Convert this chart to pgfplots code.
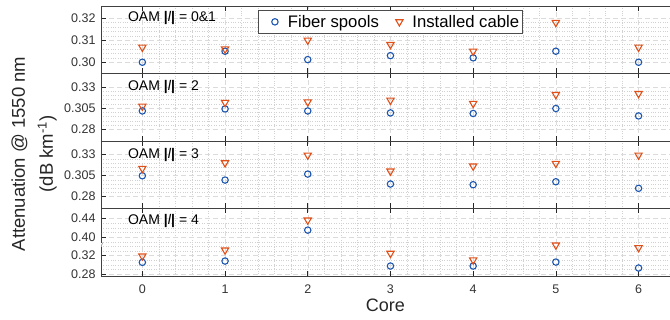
\documentclass[border=0pt]{standalone}
\usepackage{fontspec}
\setmainfont{Liberation Sans}
\usepackage{pgfplots}
\pgfplotsset{compat=1.18}
\definecolor{fblue}{RGB}{28,86,176}
\definecolor{corg}{RGB}{224,80,24}
\tikzset{lab/.style={anchor=west, inner sep=0pt, xshift=12pt, font=\fontsize{14}{15}\selectfont}}
\pgfplotsset{
  panel/.style={
    scale only axis, width=569pt, height=67.5pt,
    xmin=-0.5, xmax=6.38,
    axis x line=box, axis y line=left,
    axis line style={-, draw=black!75, line width=0.7pt},
    xtick={0,...,6}, minor x tick num=4,
    tick align=inside, major tick length=5pt, minor tick length=0pt,
    tick style={black!85, line width=0.7pt},
    grid=both,
    major grid style={dash pattern=on 5pt off 3pt, black!14, line width=0.5pt},
    minor grid style={dotted, black!18, line width=0.4pt},
    ticklabel style={font=\fontsize{12.5}{13}\selectfont, text=black!80},
    yticklabel style={xshift=-2pt},
    xticklabel style={yshift=-5pt},
    /pgf/number format/assume math mode=true,
    xticklabels={},
  },
  wideleg/.style={legend image code/.code={\path[draw=none,fill=none] (0pt,0pt) (27pt,0pt); \draw[##1] plot coordinates {(15pt,0pt)};}},
  fib/.style={only marks, mark=o, mark size=3.2pt, line width=1.1pt, color=fblue, wideleg},
  cab/.style={only marks, mark=triangle, mark size=4.2pt, line width=1.1pt, color=corg, mark options={rotate=180}, wideleg},
}
\begin{document}
\begin{tikzpicture}
\useasboundingbox (0pt,0pt) rectangle (670pt,320pt);
% Panel 1
\begin{axis}[panel, at={(101pt,314pt)}, anchor=north west,
  ymin=0.2949, ymax=0.3255, ytick={0.30,0.31,0.32}, yticklabels={0.30,0.31,0.32}, minor y tick num=4,
  legend columns=2,
  legend style={at={(axis description cs:0.508,0.937)}, anchor=north, draw=black!70, line width=0.6pt,
    font=\fontsize{16.7}{18}\selectfont, inner xsep=2pt, inner ysep=2.5pt,
    nodes={inner xsep=1pt},
    /tikz/every even column/.append style={column sep=4.5pt}},
]
\addplot[fib] coordinates {(0,0.300) (1,0.3050) (2,0.3012) (3,0.3030) (4,0.3020) (5,0.3050) (6,0.3000)};
\addlegendentry{Fiber spools}
\addplot[cab] coordinates {(0,0.3068) (1,0.3060) (2,0.3100) (3,0.3080) (4,0.3050) (5,0.3180) (6,0.3068)};
\addlegendentry{Installed cable}
\node[lab] at (axis cs:-0.32,0.3200) {OAM \textbf{|}\textit{l}\textbf{|} = 0\&1};
\end{axis}
% Panel 2
\begin{axis}[panel, at={(101pt,246.5pt)}, anchor=north west,
  ymin=0.266, ymax=0.346, ytick={0.28,0.305,0.33}, yticklabels={0.28,0.305,0.33}, minor y tick num=4]
\addplot[fib] coordinates {(0,0.3016) (1,0.3040) (2,0.3016) (3,0.2993) (4,0.2986) (5,0.3045) (6,0.2957)};
\addplot[cab] coordinates {(0,0.3072) (1,0.3116) (2,0.3123) (3,0.3143) (4,0.3104) (5,0.3210) (6,0.3222)};
\node[lab] at (axis cs:-0.32,0.3300) {OAM \textbf{|}\textit{l}\textbf{|} = 2};
\end{axis}
% Panel 3
\begin{axis}[panel, at={(101pt,179pt)}, anchor=north west,
  ymin=0.266, ymax=0.346, ytick={0.28,0.305,0.33}, yticklabels={0.28,0.305,0.33}, minor y tick num=4]
\addplot[fib] coordinates {(0,0.3048) (1,0.2997) (2,0.3068) (3,0.2950) (4,0.2942) (5,0.2977) (6,0.2899)};
\addplot[cab] coordinates {(0,0.3135) (1,0.3201) (2,0.3292) (3,0.3103) (4,0.3162) (5,0.3194) (6,0.3292)};
\node[lab] at (axis cs:-0.32,0.3300) {OAM \textbf{|}\textit{l}\textbf{|} = 3};
\end{axis}
% Panel 4 (broken axis: values above 0.37 are drawn 0.04 lower)
\begin{axis}[panel, at={(101pt,111.5pt)}, anchor=north west,
  ymin=0.2757, ymax=0.422, ytick={0.28,0.32,0.36,0.40}, yticklabels={0.28,0.32,0.40,0.44}, minor y tick num=3,
  xticklabels={0,1,2,3,4,5,6},
  xlabel={Core}, xlabel style={font=\fontsize{18}{20}\selectfont, text=black!85, yshift=1pt},
  y filter/.expression={y>0.37 ? y-0.04 : y}]
\addplot[fib] coordinates {(0,0.3053) (1,0.3081) (2,0.4151) (3,0.2973) (4,0.2973) (5,0.3059) (6,0.2930)};
\addplot[cab] coordinates {(0,0.3189) (1,0.3319) (2,0.4368) (3,0.3247) (4,0.3103) (5,0.3427) (6,0.3369)};
\node[lab] at (axis cs:-0.32,0.3960) {OAM \textbf{|}\textit{l}\textbf{|} = 4};
\node[font=\fontsize{6}{6}\selectfont, inner sep=0pt, fill=white, text=black!80] at (axis description cs:0,0.46) {//};
\end{axis}
\node[rotate=90, align=center, font=\fontsize{18.5}{28}\selectfont, text=black!85] at (34pt,166pt) {Attenuation @ 1550 nm\\(dB km\textsuperscript{-1})};
\end{tikzpicture}
\end{document}
